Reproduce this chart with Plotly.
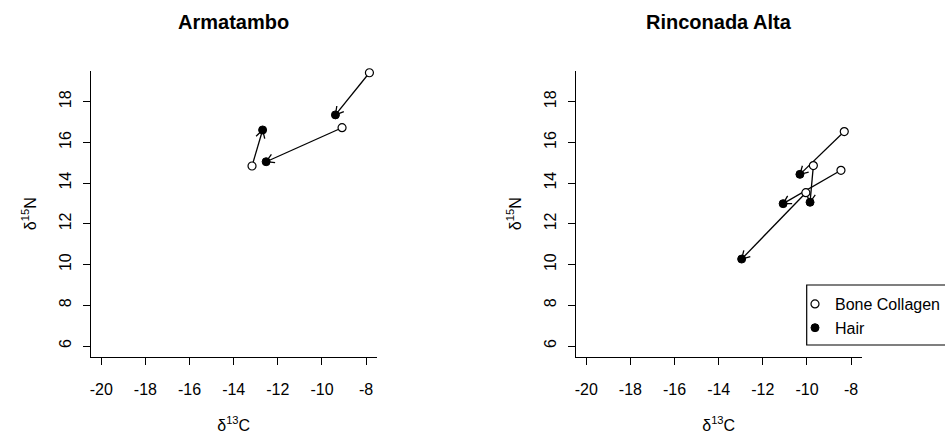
import math
import plotly.graph_objects as go

# ---- data ----
arm_bone_x = [-7.85, -9.09, -13.17]
arm_bone_y = [19.42, 16.72, 14.84]
arm_hair_x = [-9.39, -12.53, -12.69]
arm_hair_y = [17.35, 15.05, 16.61]

rin_bone_x = [-8.31, -9.71, -8.46, -10.05]
rin_bone_y = [16.53, 14.86, 14.63, 13.53]
rin_hair_x = [-10.32, -9.86, -11.08, -12.96]
rin_hair_y = [14.43, 13.06, 12.99, 10.27]

titles = ["Armatambo", "Rinconada Alta"]
x_ticks = [-20, -18, -16, -14, -12, -10, -8]
y_ticks = [6, 8, 10, 12, 14, 16, 18]
x_range = [-20.48, -7.52]
y_range = [5.48, 19.52]

FONT = "Liberation Sans, Arial, Helvetica, sans-serif"
W, H = 945, 435

# plot-region geometry in pixels
left_px = [90.7, 376.7]
right_px = [575.7, 861.7]
top_px, bot_px = 70.7, 356.6
left_dom = [left_px[0] / W, left_px[1] / W]
right_dom = [right_px[0] / W, right_px[1] / W]
y_dom = [1 - bot_px / H, 1 - top_px / H]

# pixels per data unit (used only to shape the arrowheads)
sx = (left_px[1] - left_px[0]) / (x_range[1] - x_range[0])
sy = (bot_px - top_px) / (y_range[1] - y_range[0])
HEAD_LEN = 9.0          # px
HEAD_ANG = math.radians(30)


def arrow_paths(bx, by, hx, hy):
    xs, ys = [], []
    for x0, y0, x1, y1 in zip(bx, by, hx, hy):
        xs += [x0, x1, None]
        ys += [y0, y1, None]
        dxp = (x1 - x0) * sx
        dyp = (y1 - y0) * sy
        th = math.atan2(dyp, dxp)
        for s in (1, -1):
            a = th + s * HEAD_ANG
            bxp = -HEAD_LEN * math.cos(a)
            byp = -HEAD_LEN * math.sin(a)
            xs += [x1, x1 + bxp / sx, None]
            ys += [y1, y1 + byp / sy, None]
    return xs, ys


fig = go.Figure()

panels = [
    ("x", "y", arm_bone_x, arm_bone_y, arm_hair_x, arm_hair_y, False),
    ("x2", "y2", rin_bone_x, rin_bone_y, rin_hair_x, rin_hair_y, True),
]

for xa, ya, bx, by, hx, hy, leg in panels:
    ax_, ay_ = arrow_paths(bx, by, hx, hy)
    fig.add_trace(go.Scatter(
        x=ax_, y=ay_, mode="lines", xaxis=xa, yaxis=ya, showlegend=False,
        line=dict(color="black", width=1.3), hoverinfo="skip",
        cliponaxis=False,
    ))
    fig.add_trace(go.Scatter(
        x=bx, y=by, mode="markers", name="Bone Collagen",
        xaxis=xa, yaxis=ya, showlegend=leg, cliponaxis=False,
        marker=dict(symbol="circle", size=8, color="white",
                    line=dict(color="black", width=1.2)),
    ))
    fig.add_trace(go.Scatter(
        x=hx, y=hy, mode="markers", name="Hair",
        xaxis=xa, yaxis=ya, showlegend=leg, cliponaxis=False,
        marker=dict(symbol="circle", size=8, color="black",
                    line=dict(color="black", width=1)),
    ))

axis_common = dict(
    showline=True, linecolor="black", linewidth=1.2,
    ticks="outside", ticklen=7, tickwidth=1.2, tickcolor="black",
    showgrid=False, zeroline=False, mirror=False,
    tickfont=dict(family=FONT, size=16, color="black"),
)
title_font = dict(family=FONT, size=16, color="black")

fig.update_layout(
    xaxis=dict(domain=left_dom, range=x_range, tickvals=x_ticks,
               ticktext=[str(v) for v in x_ticks], anchor="y",
               ticklabelstandoff=11,
               title=dict(text="δ<sup>13</sup>C", font=title_font, standoff=22),
               **axis_common),
    yaxis=dict(domain=y_dom, range=y_range, tickvals=y_ticks,
               ticktext=[str(v) for v in y_ticks], anchor="x", tickangle=-90,
               ticklabelstandoff=5,
               title=dict(text="δ<sup>15</sup>N", font=title_font, standoff=16),
               **axis_common),
    xaxis2=dict(domain=right_dom, range=x_range, tickvals=x_ticks,
                ticktext=[str(v) for v in x_ticks], anchor="y2",
                ticklabelstandoff=11,
                title=dict(text="δ<sup>13</sup>C", font=title_font, standoff=22),
                **axis_common),
    yaxis2=dict(domain=y_dom, range=y_range, tickvals=y_ticks,
                ticktext=[str(v) for v in y_ticks], anchor="x2", tickangle=-90,
                ticklabelstandoff=5,
                title=dict(text="δ<sup>15</sup>N", font=title_font, standoff=16),
                **axis_common),
    width=W, height=H,
    margin=dict(l=0, r=0, t=0, b=0, autoexpand=False),
    paper_bgcolor="white", plot_bgcolor="white",
    font=dict(family=FONT, size=16, color="black"),
    legend=dict(x=795 / W, y=1 - 345 / H, xanchor="left", yanchor="bottom",
                borderwidth=0, bgcolor="rgba(0,0,0,0)",
                font=dict(family=FONT, size=16, color="black"),
                tracegroupgap=0, itemwidth=30),
    shapes=[dict(type="rect", xref="paper", yref="paper",
                 x0=806.7 / W, x1=1.05, y0=1 - 345 / H, y1=1 - 285 / H,
                 line=dict(color="black", width=1.2), fillcolor="white",
                 layer="below")],
)

annotations = []
for i, t in enumerate(titles):
    dom = left_dom if i == 0 else right_dom
    annotations.append(dict(
        text="<b>%s</b>" % t, x=(dom[0] + dom[1]) / 2, y=1 - 21.7 / H,
        xref="paper", yref="paper", showarrow=False,
        xanchor="center", yanchor="middle",
        font=dict(family=FONT, size=20, color="black"),
    ))

fig.update_layout(annotations=annotations)
fig.write_html("out.html")
